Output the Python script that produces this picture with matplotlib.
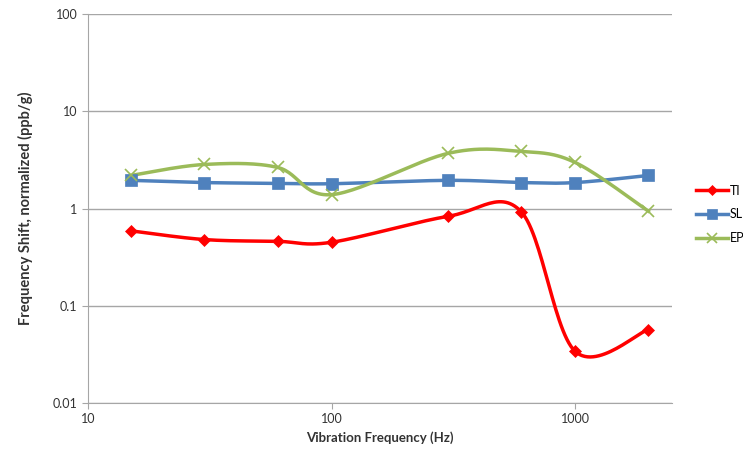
import numpy as np
import matplotlib.pyplot as plt
from matplotlib.lines import Line2D

plt.rcParams['font.family'] = ['Lato', 'DejaVu Sans']

freq = [15, 30, 60, 100, 300, 600, 1000, 2000]
ti = [0.59, 0.48, 0.46, 0.45, 0.83, 0.93, 0.034, 0.057]
sl = [1.95, 1.85, 1.82, 1.80, 1.95, 1.85, 1.85, 2.19]
ep = [2.19, 2.84, 2.65, 1.39, 3.69, 3.87, 2.98, 0.94]

series = [
    ("TI", ti, "#FF0000", "D", 6, 1.0),
    ("SL", sl, "#4F81BD", "s", 8, 1.0),
    ("EP", ep, "#9BBB59", "x", 8, 1.2),
]


def smooth(xs, ys, n=30):
    # Excel-style smoothed line: cubic bezier with catmull-rom handles, in log space
    lx = np.log10(xs)
    ly = np.log10(ys)
    px = np.concatenate([[lx[0]], lx, [lx[-1]]])
    py = np.concatenate([[ly[0]], ly, [ly[-1]]])
    outx, outy = [], []
    t = np.linspace(0, 1, n)
    for i in range(1, len(px) - 2):
        p0 = np.array([px[i], py[i]])
        p3 = np.array([px[i + 1], py[i + 1]])
        c1 = p0 + (p3 - np.array([px[i - 1], py[i - 1]])) / 6
        c2 = p3 - (np.array([px[i + 2], py[i + 2]]) - p0) / 6
        pts = ((1 - t)[:, None] ** 3 * p0 + 3 * ((1 - t) ** 2 * t)[:, None] * c1
               + 3 * ((1 - t) * t ** 2)[:, None] * c2 + (t ** 3)[:, None] * p3)
        outx.extend(pts[:, 0])
        outy.extend(pts[:, 1])
    return 10 ** np.array(outx), 10 ** np.array(outy)


fig = plt.figure(figsize=(7.43, 4.55), dpi=100)
ax = fig.add_axes([0.1184, 0.1143, 0.7861, 0.8547])

handles = []
for name, vals, col, mk, ms, mew in series:
    sx, sy = smooth(freq, vals)
    ax.plot(sx, sy, color=col, lw=2.5, zorder=3)
    ax.plot(freq, vals, linestyle="none", marker=mk, color=col, ms=ms,
            mew=mew if mk == "x" else 0.5, zorder=4)
    handles.append(Line2D([], [], color=col, lw=2.5, marker=mk, ms=ms - 1,
                          mew=mew if mk == "x" else 0.5, label=name))

ax.set_xscale("log")
ax.set_yscale("log")
ax.set_xlim(10, 2500)
ax.set_ylim(0.01, 100)
ax.set_xticks([10, 100, 1000])
ax.set_xticklabels(["10", "100", "1000"])
ax.set_yticks([0.01, 0.1, 1, 10, 100])
ax.set_yticklabels(["0.01", "0.1", "1", "10", "100"])
ax.minorticks_off()
ax.grid(axis="y", color="#A6A6A6", lw=1)
ax.set_axisbelow(True)
for s in ["top", "right"]:
    ax.spines[s].set_visible(False)
for s in ["left", "bottom"]:
    ax.spines[s].set_color("#A6A6A6")
ax.tick_params(colors="#A6A6A6", labelcolor="#333333", labelsize=9, length=4)

ax.set_xlabel("Vibration Frequency (Hz)", fontsize=9.5, fontweight="bold", color="#333333")
ax.set_ylabel("Frequency Shift, normalized (ppb/g)", fontsize=10.5, fontweight="bold",
              color="#333333", labelpad=14)

fig.legend(handles=handles, loc="upper left", bbox_to_anchor=(0.922, 0.619),
           frameon=False, fontsize=9, handlelength=2.5, labelspacing=0.95,
           handletextpad=0.2)

fig.savefig("out.png", dpi=100)
